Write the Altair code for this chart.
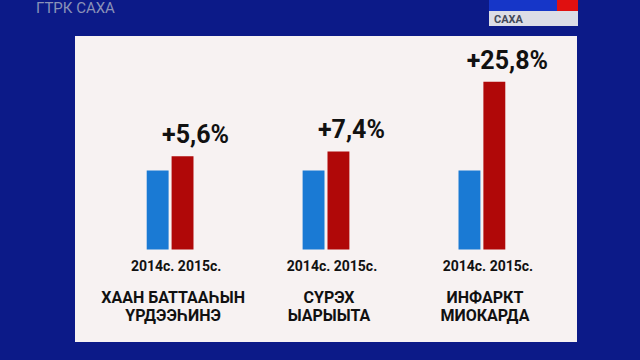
import altair as alt
import pandas as pd

groups = ["g1", "g2", "g3"]
names_line1 = ["ХААН БАТТААҺЫН", "СҮРЭХ", "ИНФАРКТ"]
names_line2 = ["ҮРДЭЭҺИНЭ", "ЫАРЫЫТА", "МИОКАРДА"]
years = ["2014с.", "2015с."]
v2014 = [100, 100, 100]
v2015 = [118, 124, 212]
changes = ["+5,6%", "+7,4%", "+25,8%"]
year_label = "2014с. 2015с."

rows = []
for i, g in enumerate(groups):
    rows.append({"group": g, "year": years[0], "value": v2014[i], "label": ""})
    rows.append({"group": g, "year": years[1], "value": v2015[i], "label": changes[i]})
bars_df = pd.DataFrame(rows)
grp_df = pd.DataFrame({"group": groups, "n1": names_line1, "n2": names_line2,
                       "yl": [year_label] * 3})

FONT = "Roboto"
xs = alt.X("group:N", sort=groups, axis=None,
           scale=alt.Scale(paddingInner=0.7, paddingOuter=0.46))
ysc = alt.Scale(domain=[-117, 270], nice=False, zero=False)

bars = alt.Chart(bars_df).mark_bar().encode(
    x=xs,
    xOffset=alt.XOffset("year:N", sort=years, scale=alt.Scale(paddingInner=0.12)),
    y=alt.Y("value:Q", scale=ysc, axis=None),
    color=alt.Color("year:N", sort=years, legend=None,
                    scale=alt.Scale(domain=years, range=["#1a7ad4", "#b00808"])),
)

pct = alt.Chart(bars_df).transform_filter(alt.datum.label != "").mark_text(
    font=FONT, fontWeight="bold", fontSize=25, color="#111111",
    baseline="alphabetic", dx=13, dy=-13,
).encode(
    x=xs,
    xOffset=alt.XOffset("year:N", sort=years),
    y=alt.Y("value:Q", scale=ysc),
    text="label:N",
)

yl = alt.Chart(grp_df).mark_text(
    font=FONT, fontWeight="bold", fontSize=14, color="#111111",
    baseline="alphabetic", dx=6,
).encode(x=xs, y=alt.datum(-27), text="yl:N")

nm1 = alt.Chart(grp_df).mark_text(
    font=FONT, fontWeight="bold", fontSize=16, color="#111111",
    baseline="alphabetic", dx=3,
).encode(x=xs, y=alt.datum(-68), text="n1:N")

nm2 = alt.Chart(grp_df).mark_text(
    font=FONT, fontWeight="bold", fontSize=16, color="#111111",
    baseline="alphabetic", dx=3,
).encode(x=xs, y=alt.datum(-90), text="n2:N")

deco_df = pd.DataFrame([{"k": 1}])
base = alt.Chart(deco_df)
saxa_box = base.mark_rect(color="#dcdde6", clip=False).encode(
    x=alt.value(414), x2=alt.value(503), y=alt.value(-25), y2=alt.value(-10))
ros_band = base.mark_rect(color="#1636c8", clip=False).encode(
    x=alt.value(414), x2=alt.value(482), y=alt.value(-36), y2=alt.value(-25))
red_box = base.mark_rect(color="#e01010", clip=False).encode(
    x=alt.value(482), x2=alt.value(503), y=alt.value(-36), y2=alt.value(-25))
saxa_txt = base.mark_text(font=FONT, fontSize=11, fontWeight="bold", color="#444a5a",
                          align="left", baseline="alphabetic", clip=False).encode(
    x=alt.value(419), y=alt.value(-13), text=alt.value("САХА"))
gtrk = base.mark_text(font=FONT, fontSize=15, color="#8a92b8",
                      align="left", baseline="alphabetic", clip=False).encode(
    x=alt.value(-39), y=alt.value(-23), text=alt.value("ГТРК САХА"))

chart = alt.layer(bars, pct, yl, nm1, nm2, saxa_box, ros_band, red_box, saxa_txt, gtrk).properties(
    width=502, height=306,
    autosize=alt.AutoSizeParams(type="none"),
    padding={"left": 75, "top": 36, "right": 63, "bottom": 18},
    background="#0c1a88",
).configure_view(fill="#f7f2f2", stroke=None)

chart.save("out.html", embed_options={"renderer": "svg", "actions": False})
